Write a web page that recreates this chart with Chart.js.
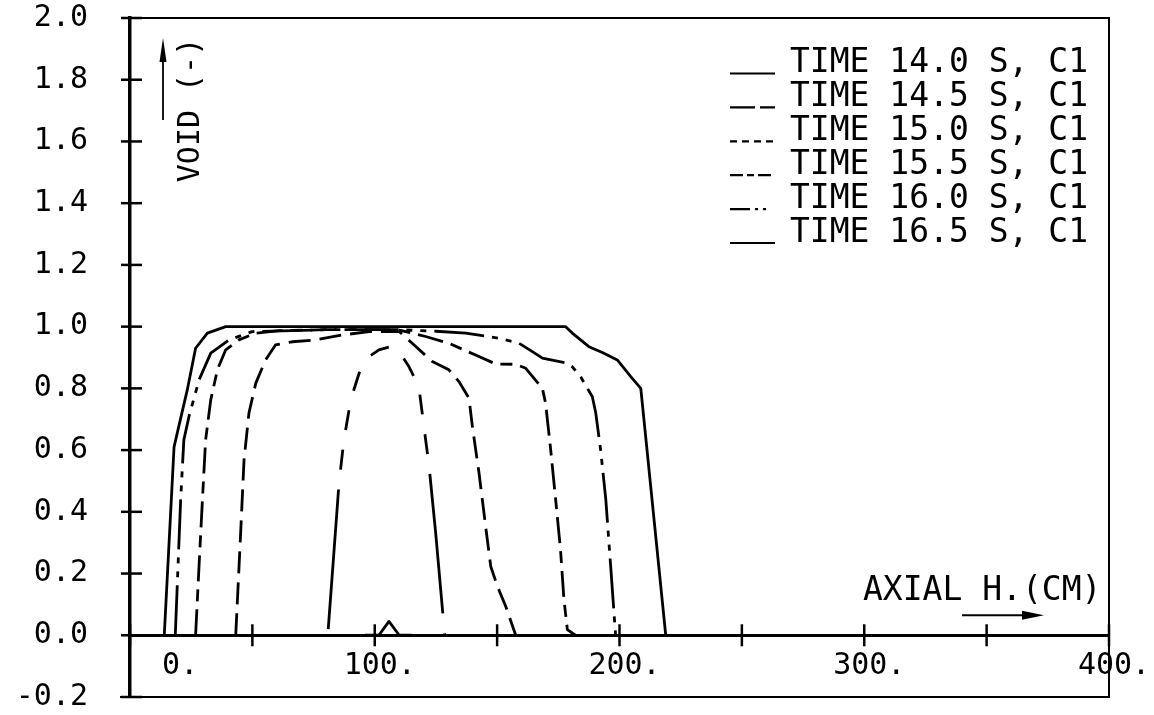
<!DOCTYPE html>
<html>
<head>
<meta charset="utf-8">
<style>
  html, body { margin: 0; padding: 0; background: #ffffff; }
  canvas { display: block; }
</style>
<script src="https://cdn.jsdelivr.net/npm/chart.js@4.4.1/dist/chart.umd.min.js"></script>
</head>
<body>
<canvas id="chart" width="1154" height="715"></canvas>
<script>
// Legend texts, one per transient time
const seriesLabels = [
  'TIME 14.0 S, C1',
  'TIME 14.5 S, C1',
  'TIME 15.0 S, C1',
  'TIME 15.5 S, C1',
  'TIME 16.0 S, C1',
  'TIME 16.5 S, C1'
];

// Axial height (cm) and void fraction (-) profiles
const h140 = [96, 101.7, 105.8, 110, 115];
const v140 = [0.0, 0.0, 0.045, 0.0, 0.0];

const h145 = [81, 85.4, 87.4, 90.2, 93.6, 97.7, 101.7, 106.5, 110, 114, 118, 120.1, 122.2, 124.9, 128.6];
const v145 = [0.02, 0.493, 0.633, 0.763, 0.849, 0.903, 0.925, 0.935, 0.919, 0.87, 0.806, 0.676, 0.547, 0.331, 0.0];

const h150 = [43.2, 45.2, 46.6, 48.6, 51.4, 55.4, 59.5, 66.3, 75.9, 86.8, 97.7, 110, 115.3, 123.5, 130.3, 134.4, 138.5, 139.9, 142.6, 145.3, 147.4, 150.1, 153.5, 157.6];
const v150 = [0.0, 0.33, 0.569, 0.72, 0.817, 0.892, 0.941, 0.951, 0.957, 0.973, 0.984, 0.984, 0.946, 0.887, 0.86, 0.822, 0.768, 0.676, 0.526, 0.353, 0.223, 0.159, 0.094, 0.0];

const h155 = [26.8, 28.2, 29.6, 30.9, 33, 35.7, 39.1, 44.5, 51.4, 60.9, 80, 100, 110, 120.8, 130.3, 141.2, 149.4, 157.6, 161.7, 168.5, 169.8, 171.9, 173.9, 175.9, 177.3, 178.7, 182];
const v155 = [0.0, 0.223, 0.44, 0.633, 0.763, 0.86, 0.925, 0.957, 0.979, 0.987, 0.99, 0.99, 0.989, 0.968, 0.946, 0.908, 0.879, 0.878, 0.865, 0.80, 0.752, 0.60, 0.44, 0.277, 0.116, 0.018, 0.0];

const h160 = [18.5, 20.7, 22, 24.1, 28.2, 33, 40.5, 50, 80, 110, 125, 137.2, 150.8, 159, 164.4, 168.5, 178, 180.7, 184.1, 188.9, 190.3, 192.3, 194.4, 196.4, 198.4];
const v160 = [0.0, 0.44, 0.633, 0.709, 0.827, 0.914, 0.957, 0.984, 0.99, 0.99, 0.985, 0.979, 0.962, 0.946, 0.919, 0.898, 0.883, 0.87, 0.838, 0.773, 0.72, 0.60, 0.44, 0.223, 0.0];

const h165 = [14, 18, 19.3, 23.4, 26.8, 31.6, 39.1, 60, 100, 150, 178, 180.7, 187.5, 193, 199.1, 204.6, 208.7, 218.9];
const v165 = [0.0, 0.61, 0.655, 0.795, 0.93, 0.979, 1.0, 1.0, 1.0, 1.0, 1.0, 0.979, 0.935, 0.916, 0.892, 0.838, 0.80, 0.0];

// Axis tick labels
const xLabelValues = [0, 100, 200, 300, 400];
const xLabelTexts = ['0.', '100.', '200.', '300.', '400.'];

const FONT = '"DejaVu Sans Mono", "Liberation Mono", monospace';
const INK = '#000000';

const pts = (xs, ys) => xs.map((x, i) => ({ x: x, y: ys[i] }));

// Plotter pen styles: dash pattern on the curves and in the legend key
const penStyles = [
  { dash: [], key: [] },
  { dash: [140, 20, 20, 20, 20, 20, 20, 20, 20, 20, 20, 20, 20, 20, 20, 20], key: [25, 5, 15, 100] },
  { dash: [22, 9], key: [7, 5] },
  { dash: [26, 8, 12, 8], key: [13, 4, 7, 4] },
  { dash: [50, 8, 6, 8, 6, 8], key: [20, 5, 3, 5, 3, 12] },
  { dash: [], key: [] }
];

const profiles = [
  pts(h140, v140), pts(h145, v145), pts(h150, v150),
  pts(h155, v155), pts(h160, v160), pts(h165, v165)
];

const datasets = profiles.map((data, i) => ({
  label: seriesLabels[i],
  data: data,
  borderColor: INK,
  backgroundColor: INK,
  borderWidth: 2.8,
  borderDash: penStyles[i].dash,
  keyDash: penStyles[i].key,
  borderJoinStyle: 'round',
  pointRadius: 0,
  pointHoverRadius: 0,
  tension: 0,
  fill: false
}));

function arrowHead(ctx, tipX, tipY, dx, dy, len, half) {
  const bx = tipX - dx * len, by = tipY - dy * len;
  ctx.beginPath();
  ctx.moveTo(tipX, tipY);
  ctx.lineTo(bx - dy * half, by + dx * half);
  ctx.lineTo(bx + dy * 0.3, by - dx * 0.3);
  ctx.lineTo(bx + dy * half, by - dx * half);
  ctx.closePath();
  ctx.fill();
}

// Frame, crossing tick marks, axis titles with arrows and the key
const plotterDecor = {
  id: 'plotterDecor',
  afterDraw(chart) {
    const { ctx, chartArea: a, scales } = chart;
    const xs = scales.x, ys = scales.y;
    ctx.save();
    ctx.strokeStyle = INK;
    ctx.fillStyle = INK;

    // frame: top, right and bottom edges
    ctx.lineWidth = 2;
    ctx.beginPath();
    ctx.moveTo(a.left - 7, a.top);
    ctx.lineTo(a.right, a.top);
    ctx.lineTo(a.right, a.bottom);
    ctx.lineTo(a.left - 10, a.bottom);
    ctx.stroke();

    // crossing ticks on the vertical axis
    ctx.lineWidth = 2.5;
    ys.ticks.forEach((t, i) => {
      const py = ys.getPixelForTick(i);
      ctx.beginPath();
      ctx.moveTo(a.left - 9, py);
      ctx.lineTo(a.left + 12, py);
      ctx.stroke();
    });

    // crossing ticks on the horizontal axis (drawn at zero void)
    const y0 = ys.getPixelForValue(0);
    xs.ticks.forEach((t, i) => {
      const px = xs.getPixelForTick(i);
      ctx.beginPath();
      ctx.moveTo(px, y0 - 11);
      ctx.lineTo(px, y0 + 11);
      ctx.stroke();
    });

    // vertical axis title with upward arrow
    ctx.lineWidth = 1.8;
    const ax = a.left + 33;
    ctx.beginPath();
    ctx.moveTo(ax, a.top + 102);
    ctx.lineTo(ax, a.top + 28);
    ctx.stroke();
    arrowHead(ctx, ax, a.top + 20, 0, -1, 24, 3.5);

    ctx.save();
    ctx.translate(a.left + 61, a.top + 92);
    ctx.rotate(-Math.PI / 2);
    ctx.font = '30px ' + FONT;
    ctx.textAlign = 'center';
    ctx.textBaseline = 'middle';
    ctx.fillText('VOID (-)', 0, 0);
    ctx.restore();

    // horizontal axis title with rightward arrow
    ctx.font = '33px ' + FONT;
    ctx.textAlign = 'left';
    ctx.textBaseline = 'middle';
    ctx.fillText('AXIAL H.(CM)', a.right - 246, y0 - 44);
    ctx.lineWidth = 1.8;
    ctx.beginPath();
    ctx.moveTo(a.right - 147, y0 - 20);
    ctx.lineTo(a.right - 72, y0 - 20);
    ctx.stroke();
    arrowHead(ctx, a.right - 65, y0 - 20, 1, 0, 22, 4.5);

    // key
    const keyX = a.right - 379, textX = a.right - 319, firstY = a.top + 45.5, step = 33.9;
    chart.data.datasets.forEach((ds, i) => {
      const cy = firstY + i * step;
      ctx.save();
      ctx.lineWidth = 2.2;
      ctx.setLineDash(ds.keyDash);
      ctx.beginPath();
      ctx.moveTo(keyX, cy + 10);
      ctx.lineTo(keyX + 45, cy + 10);
      ctx.stroke();
      ctx.restore();
      ctx.font = '33px ' + FONT;
      ctx.textAlign = 'left';
      ctx.textBaseline = 'middle';
      ctx.fillText(ds.label, textX, cy);
    });

    ctx.restore();
  }
};

new Chart(document.getElementById('chart'), {
  type: 'line',
  data: { datasets: datasets },
  options: {
    responsive: false,
    animation: false,
    devicePixelRatio: 1,
    layout: { padding: { left: 0, top: 18, right: 45, bottom: 18 } },
    plugins: {
      legend: { display: false },
      title: { display: false },
      tooltip: { enabled: false }
    },
    events: [],
    scales: {
      x: {
        type: 'linear',
        position: { y: 0 },
        min: 0,
        max: 400,
        grid: { display: false, drawTicks: false, tickLength: 0 },
        border: { display: true, color: INK, width: 3 },
        ticks: {
          stepSize: 50,
          autoSkip: false,
          maxRotation: 0,
          padding: 13,
          labelOffset: 5,
          color: INK,
          font: { family: FONT, size: 30 },
          callback: (v) => {
            const k = xLabelValues.indexOf(v);
            if (k < 0) return '';
            return k === 0 ? '     ' + xLabelTexts[k] : xLabelTexts[k];
          }
        },
        afterFit: (s) => { s.height = 0; s.paddingLeft = 0; s.paddingRight = 0; }
      },
      y: {
        type: 'linear',
        position: 'left',
        min: -0.2,
        max: 2.0,
        grid: { display: false, drawTicks: false, tickLength: 0 },
        border: { display: true, color: INK, width: 3.5 },
        ticks: {
          stepSize: 0.2,
          padding: 42,
          color: INK,
          font: { family: FONT, size: 30 },
          callback: (v) => (Math.abs(v) < 1e-9 ? 0 : v).toFixed(1)
        },
        afterFit: (s) => { s.width = 130; s.paddingTop = 0; s.paddingBottom = 0; }
      }
    }
  },
  plugins: [plotterDecor]
});
</script>
</body>
</html>
